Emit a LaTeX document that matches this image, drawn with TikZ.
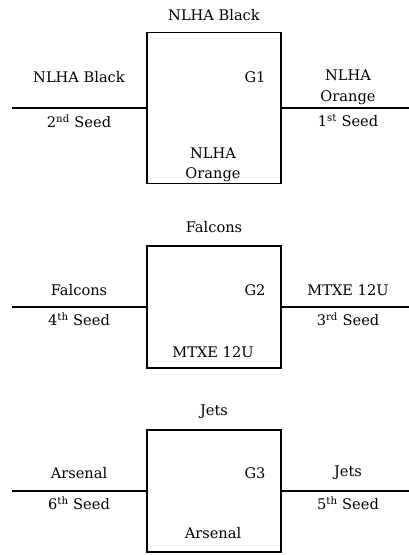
\documentclass[tikz,border=0pt]{standalone}
\usepackage{fontspec}
\setmainfont{DejaVu Serif}
\usepackage{tikz}

\begin{document}
\begin{tikzpicture}[x=1pt,y=-1pt,
  game/.style={draw,line width=1.3pt,minimum width=134pt,inner sep=0pt},
  team/.style={inner sep=0pt,align=center,font=\fontsize{14.6}{20.5}\selectfont},
  seedline/.style={line width=1.3pt}]
  \useasboundingbox (0,0) rectangle (409,555);
  % game 1
  \node[game,minimum height=151pt] (g1) at (214,108) {};
  \node[team] (g1top) at (214,15) {NLHA Black};
  \node[team] (g1left) at (79,77) {NLHA Black};
  \node[team] (g1num) at (255,77) {G1};
  \node[team] (g1right) at (348,87.5) {NLHA\\Orange};
  \node[team] (g1lseed) at (79,121) {2\textsuperscript{nd} Seed};
  \node[team] (g1rseed) at (348,121) {1\textsuperscript{st} Seed};
  \node[team] (g1bot) at (213,165) {NLHA\\Orange};
  \coordinate (g1l) at (12,108);
  \coordinate (g1r) at (409,108);
  \draw[seedline] (g1l) -- (g1.west);
  \draw[seedline] (g1.east) -- (g1r);
  % game 2
  \node[game,minimum height=122pt] (g2) at (214,307) {};
  \node[team] (g2top) at (214,227) {Falcons};
  \node[team] (g2left) at (79,290) {Falcons};
  \node[team] (g2num) at (255,290) {G2};
  \node[team] (g2right) at (348,290) {MTXE 12U};
  \node[team] (g2lseed) at (79,319) {4\textsuperscript{th} Seed};
  \node[team] (g2rseed) at (348,319) {3\textsuperscript{rd} Seed};
  \node[team] (g2bot) at (213,352) {MTXE 12U};
  \coordinate (g2l) at (12,307);
  \coordinate (g2r) at (409,307);
  \draw[seedline] (g2l) -- (g2.west);
  \draw[seedline] (g2.east) -- (g2r);
  % game 3
  \node[game,minimum height=122pt] (g3) at (214,491) {};
  \node[team] (g3top) at (214,412) {Jets};
  \node[team] (g3left) at (79,473) {Arsenal};
  \node[team] (g3num) at (255,473) {G3};
  \node[team] (g3right) at (348,473) {Jets};
  \node[team] (g3lseed) at (79,503) {6\textsuperscript{th} Seed};
  \node[team] (g3rseed) at (348,503) {5\textsuperscript{th} Seed};
  \node[team] (g3bot) at (213,533) {Arsenal};
  \coordinate (g3l) at (12,491);
  \coordinate (g3r) at (409,491);
  \draw[seedline] (g3l) -- (g3.west);
  \draw[seedline] (g3.east) -- (g3r);
\end{tikzpicture}
\end{document}
